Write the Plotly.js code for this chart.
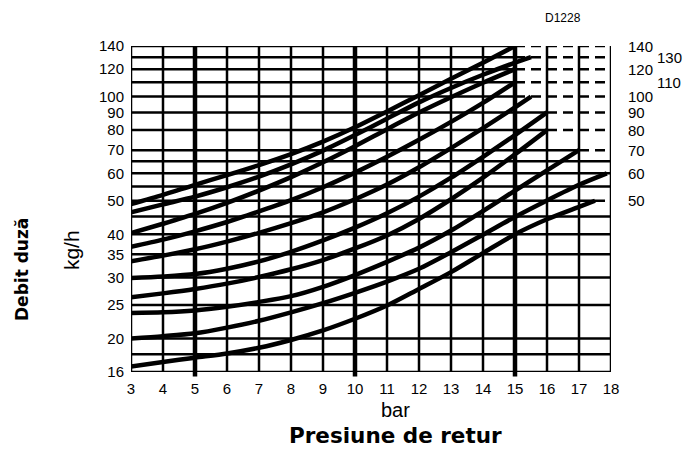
<!DOCTYPE html>
<html>
<head>
<meta charset="utf-8">
<script src="https://cdn.plot.ly/plotly-3.0.1.min.js"></script>
<style>html,body{margin:0;padding:0;background:#fff;}#chart{width:684px;height:451px;}</style>
</head>
<body>
<div id="chart"></div>
<script>
// ---- data ----
var xTicks = [3,4,5,6,7,8,9,10,11,12,13,14,15,16,17,18];
var yTicks = [16,20,25,30,35,40,50,60,70,80,90,100,120,140];
var gridY = [16,18,20,25,30,35,40,45,50,55,60,65,70,80,90,100,110,120,130,140];
var dashFromY = {140:15,130:15,120:15,110:15,100:15,90:16,80:16,70:17,50:17.5};
var thickX = [5,10,15];
var curveLabels = [140,130,120,110,100,90,80,70,60,50];
var rightLabelsNear = [140,120,100,90,80,70,60,50];
var rightLabelsFar = [130,110];

var c140x = [3,4,5,6,7,8,9,10,11,12,13,14,15];
var c140y = [48.9,52.0,55.6,59.3,63.4,68.2,74.1,81.5,90.6,100.9,112.5,125.3,140];
var c130x = [3,4,5,6,7,8,9,10,11,12,13,14,15,15.5];
var c130y = [46.3,48.8,51.4,54.7,58.7,63.7,69.8,77.4,86.3,96.2,105.9,115.6,125.3,130];
var c120x = [3,4,5,6,7,8,9,10,11,12,13,14,15];
var c120y = [40.3,42.9,45.8,49.3,53.5,58.5,64.6,71.9,80.5,89.9,99.5,109.6,120];
var c110x = [3,4,5,6,7,8,9,10,11,12,13,14,15];
var c110y = [36.8,38.6,40.8,43.4,46.6,50.2,54.7,60.3,67.0,75.0,84.5,95.9,110];
var c100x = [3,4,5,6,7,8,9,10,11,12,13,14,15,15.5];
var c100y = [33.4,34.7,36.2,38.1,40.4,43.1,46.3,50.5,55.7,62.5,71.0,81.1,93.1,100];
var c90x  = [3,4,5,6,7,8,9,10,11,12,13,14,15,16];
var c90y  = [29.9,30.2,30.7,31.8,33.4,35.6,38.4,41.8,46.0,51.4,58.3,67.0,77.4,90];
var c80x  = [3,4,5,6,7,8,9,10,11,12,13,14,15,16];
var c80y  = [26.3,27.0,27.8,28.8,30.1,31.7,33.7,36.4,39.7,44.3,50.5,58.3,68.1,80];
var c70x  = [3,4,5,6,7,8,9,10,11,12,13,14,15,16,17];
var c70y  = [23.7,23.8,24.1,24.7,25.5,26.5,28.2,30.5,33.3,36.6,41.0,46.7,53.5,61.2,70];
var c60x  = [3,4,5,6,7,8,9,10,11,12,13,14,15,16,17,17.87];
var c60y  = [20,20.3,20.7,21.5,22.5,23.8,25.3,27.1,29.2,31.8,35.5,39.9,44.9,50.1,55.6,60];
var c50x  = [3,4,5,6,7,8,9,10,11,12,13,14,15,16,17,17.5];
var c50y  = [16.6,17.1,17.6,18.1,18.8,19.8,21.1,22.8,24.9,27.8,31.1,35.3,40,44.2,48.0,50];

var curvesX = [c140x,c130x,c120x,c110x,c100x,c90x,c80x,c70x,c60x,c50x];
var curvesY = [c140y,c130y,c120y,c110y,c100y,c90y,c80y,c70y,c60y,c50y];

// ---- build ----
var xMin = xTicks[0], xMax = xTicks[xTicks.length-1];
var yMin = gridY[0], yMax = gridY[gridY.length-1];

var traces = curvesX.map(function(xs, i){
  return {x: xs, y: curvesY[i], type:'scatter', mode:'lines', name: String(curveLabels[i]),
    line:{color:'#000', width:4.5, shape:'spline', smoothing:0.8}, cliponaxis:false, hoverinfo:'skip'};
});

var shapes = [];
gridY.forEach(function(v){
  var d = dashFromY[v] !== undefined ? dashFromY[v] : xMax;
  shapes.push({type:'line', xref:'x', yref:'y', x0:xMin, x1:d, y0:v, y1:v, layer:'below',
    line:{color:'#000', width:2.5}});
  if (d < xMax) {
    shapes.push({type:'line', xref:'x', yref:'y', x0:d, x1:xMax, y0:v, y1:v, layer:'below',
      line:{color:'#000', width:2.5, dash:'10px,6px'}});
  }
});
xTicks.forEach(function(v){
  var thick = thickX.indexOf(v) >= 0;
  shapes.push({type:'line', xref:'x', yref:thick ? 'paper' : 'y', x0:v, x1:v,
    y0: thick ? -0.014 : yMin, y1: thick ? 1 : yMax, layer:'below',
    line:{color:'#000', width: thick ? 4.5 : 2.5}});
});

var FONT = 'Liberation Sans, Arial, sans-serif';
var annotations = [];
rightLabelsNear.forEach(function(v){
  annotations.push({x:1.031, y:Math.log10(v), xref:'paper', yref:'y', text:String(v), showarrow:false,
    xanchor:'left', yanchor:'middle', font:{family:FONT, size:15, color:'#000'}});
});
rightLabelsFar.forEach(function(v){
  annotations.push({x:1.092, y:Math.log10(v), xref:'paper', yref:'y', text:String(v), showarrow:false,
    xanchor:'left', yanchor:'middle', font:{family:FONT, size:15, color:'#000'}});
});
annotations.push({x:0.9, y:1.086, xref:'paper', yref:'paper', text:'D1228', showarrow:false,
  xanchor:'center', yanchor:'middle', font:{family:FONT, size:12, color:'#000'}});
annotations.push({x:-0.125, y:0.374, xref:'paper', yref:'paper', text:'kg/h', showarrow:false, textangle:-90,
  xanchor:'center', yanchor:'middle', font:{family:FONT, size:21, color:'#000'}});
annotations.push({x:-0.227, y:0.313, xref:'paper', yref:'paper', text:'Debit duză', showarrow:false, textangle:-90,
  xanchor:'center', yanchor:'middle', font:{family:'DejaVu Sans, sans-serif', size:17, color:'#000', weight:'bold'}});
annotations.push({x:0.55, y:-0.1166, xref:'paper', yref:'paper', text:'bar', showarrow:false,
  xanchor:'center', yanchor:'middle', font:{family:FONT, size:20, color:'#000'}});
annotations.push({x:0.55, y:-0.2393, xref:'paper', yref:'paper', text:'Presiune de retur', showarrow:false,
  xanchor:'center', yanchor:'bottom', font:{family:'DejaVu Sans, sans-serif', size:21.5, color:'#000', weight:'bold'}});

var layout = {
  width:684, height:451,
  margin:{l:131, r:73, t:46, b:79, pad:0},
  paper_bgcolor:'#fff', plot_bgcolor:'#fff',
  showlegend:false,
  xaxis:{range:[xMin, xMax], tickvals:xTicks, ticktext:xTicks.map(String), showgrid:false, zeroline:false,
    showline:false, ticks:'', ticklabelstandoff:6, tickfont:{family:FONT, size:15, color:'#000'}},
  yaxis:{type:'log', range:[Math.log10(yMin), Math.log10(yMax)], tickvals:yTicks, ticktext:yTicks.map(String),
    showgrid:false, zeroline:false, showline:false, ticks:'', ticklabelstandoff:6,
    tickfont:{family:FONT, size:15, color:'#000'}},
  shapes:shapes,
  annotations:annotations
};

Plotly.newPlot('chart', traces, layout, {displayModeBar:false, staticPlot:true});
</script>
</body>
</html>
